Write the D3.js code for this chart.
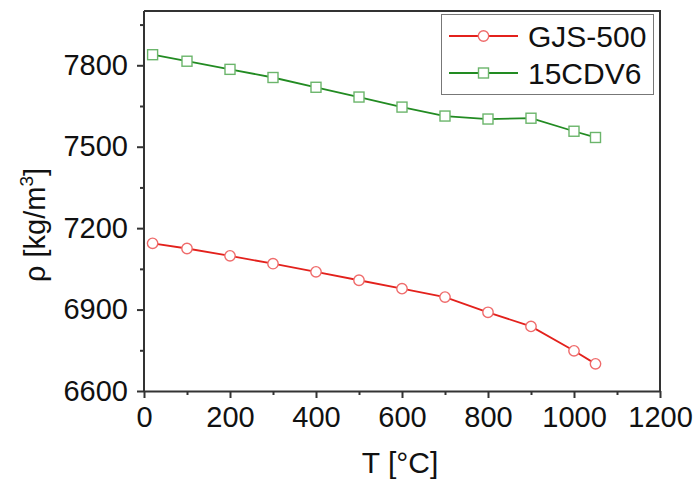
<!DOCTYPE html>
<html>
<head>
<meta charset="utf-8">
<script src="https://cdn.jsdelivr.net/npm/d3@7"></script>
<style>
  body { margin: 0; background: #fff; }
  text { font-family: "Liberation Sans", Arial, sans-serif; }
</style>
</head>
<body>
<script>
// temperatures [°C]
let temps = [20, 100, 200, 300, 400, 500, 600, 700, 800, 900, 1000, 1050];
// density values
let gjs500 = [7144, 7125, 7098, 7069, 7039, 7008, 6977, 6946, 6890, 6838, 6748, 6700];
let cdv6 = [7839, 7815, 7785, 7755, 7719, 7683, 7646, 7613, 7602, 7605, 7557, 7534];

let xTicks = [0, 200, 400, 600, 800, 1000, 1200];
let xMinor = [100, 300, 500, 700, 900, 1100];
let yTicks = [6600, 6900, 7200, 7500, 7800];
let yMinor = [6750, 7050, 7350, 7650, 7950];

let seriesNames = ["GJS-500", "15CDV6"];

let W = 696, H = 484;
let m = {left: 144, right: 36, top: 11, bottom: 93};

let svg = d3.select("body")
  .append("svg")
  .attr("width", W)
  .attr("height", H)

let x = d3.scaleLinear().domain([0, 1200]).range([m.left, W - m.right]);
let y = d3.scaleLinear().domain([6600, 8000]).range([H - m.bottom, m.top]);

let axisColor = "#333";

// frame top/right
svg.append("path")
  .attr("d", `M${x(0)},${y(8000)}H${x(1200)}V${y(6600)}`)
  .attr("fill", "none")
  .attr("stroke", axisColor)
  .attr("stroke-width", 2)

function styleAxis(g) {
  g.select(".domain").attr("stroke", axisColor).attr("stroke-width", 2);
  g.selectAll(".tick line").attr("stroke", axisColor).attr("stroke-width", 2);
  g.selectAll(".tick text")
    .attr("font-size", "29px")
    .attr("font-family", "Liberation Sans, Arial, sans-serif")
    .attr("fill", "#111");
}

let xAxis = svg.append("g")
  .attr("transform", `translate(0,${y(6600)})`)
  .call(d3.axisBottom(x).tickValues(xTicks).tickSize(7).tickSizeOuter(0).tickPadding(8).tickFormat(d3.format("d")))
  .call(styleAxis)

svg.append("g")
  .attr("transform", `translate(0,${y(6600)})`)
  .call(d3.axisBottom(x).tickValues(xMinor).tickSize(4).tickFormat(""))
  .call(g => g.select(".domain").remove())
  .call(g => g.selectAll(".tick line").attr("stroke", axisColor).attr("stroke-width", 2))

let yAxis = svg.append("g")
  .attr("transform", `translate(${x(0)},0)`)
  .call(d3.axisLeft(y).tickValues(yTicks).tickSize(7).tickSizeOuter(0).tickPadding(9).tickFormat(d3.format("d")))
  .call(styleAxis)

// extend y domain to top of frame
yAxis.select(".domain").attr("d", `M0,${y(6600)}V${y(8000)}`)

svg.append("g")
  .attr("transform", `translate(${x(0)},0)`)
  .call(d3.axisLeft(y).tickValues(yMinor).tickSize(4).tickFormat(""))
  .call(g => g.select(".domain").remove())
  .call(g => g.selectAll(".tick line").attr("stroke", axisColor).attr("stroke-width", 2))

// axis titles
svg.append("text")
  .attr("x", x(600) - 2)
  .attr("y", 473)
  .attr("text-anchor", "middle")
  .attr("font-size", "30px")
  .attr("fill", "#111")
  .text("T [°C]")

let yt = svg.append("text")
  .attr("transform", `translate(45,${225}) rotate(-90)`)
  .attr("text-anchor", "middle")
  .attr("font-size", "29px")
  .attr("fill", "#111")
yt.append("tspan").text("ρ [kg/m")
yt.append("tspan").attr("font-size", "19px").attr("dy", -12).text("3")
yt.append("tspan").attr("dy", 12).text("]")

let line = d3.line()
  .x((d, i) => x(temps[i]))
  .y(d => y(d))

let redLine = "#e3211c", redMark = "#ef6b6b";
let greenLine = "#228b22", greenMark = "#6bb56b";

svg.append("path")
  .datum(gjs500)
  .attr("d", line)
  .attr("fill", "none")
  .attr("stroke", redLine)
  .attr("stroke-width", 1.8)

svg.append("path")
  .datum(cdv6)
  .attr("d", line)
  .attr("fill", "none")
  .attr("stroke", greenLine)
  .attr("stroke-width", 1.8)

svg.selectAll(".circ")
  .data(gjs500)
  .enter()
  .append("circle")
  .attr("cx", (d, i) => x(temps[i]))
  .attr("cy", d => y(d))
  .attr("r", 5.2)
  .attr("fill", "#fff")
  .attr("stroke", redMark)
  .attr("stroke-width", 1.4)

svg.selectAll(".sq")
  .data(cdv6)
  .enter()
  .append("rect")
  .attr("x", (d, i) => x(temps[i]) - 5)
  .attr("y", d => y(d) - 5)
  .attr("width", 10)
  .attr("height", 10)
  .attr("fill", "#fff")
  .attr("stroke", greenMark)
  .attr("stroke-width", 1.4)

// legend
let lg = svg.append("g")
lg.append("rect")
  .attr("x", 441.5)
  .attr("y", 14.5)
  .attr("width", 212)
  .attr("height", 80)
  .attr("fill", "#fff")
  .attr("stroke", "#777")
  .attr("stroke-width", 1)

let legendRows = [
  {name: seriesNames[0], line: redLine, mark: redMark, shape: "circle", cy: 36},
  {name: seriesNames[1], line: greenLine, mark: greenMark, shape: "square", cy: 73}
];
legendRows.forEach(r => {
  lg.append("line")
    .attr("x1", 449).attr("x2", 518)
    .attr("y1", r.cy).attr("y2", r.cy)
    .attr("stroke", r.line)
    .attr("stroke-width", 1.8)
  if (r.shape === "circle") {
    lg.append("circle").attr("cx", 483.5).attr("cy", r.cy).attr("r", 5.2)
      .attr("fill", "#fff").attr("stroke", r.mark).attr("stroke-width", 1.4)
  } else {
    lg.append("rect").attr("x", 478.5).attr("y", r.cy - 5).attr("width", 10).attr("height", 10)
      .attr("fill", "#fff").attr("stroke", r.mark).attr("stroke-width", 1.4)
  }
  lg.append("text")
    .attr("x", 528)
    .attr("y", r.cy + 11)
    .attr("font-size", "30px")
    .attr("fill", "#111")
    .text(r.name)
})
</script>
</body>
</html>
